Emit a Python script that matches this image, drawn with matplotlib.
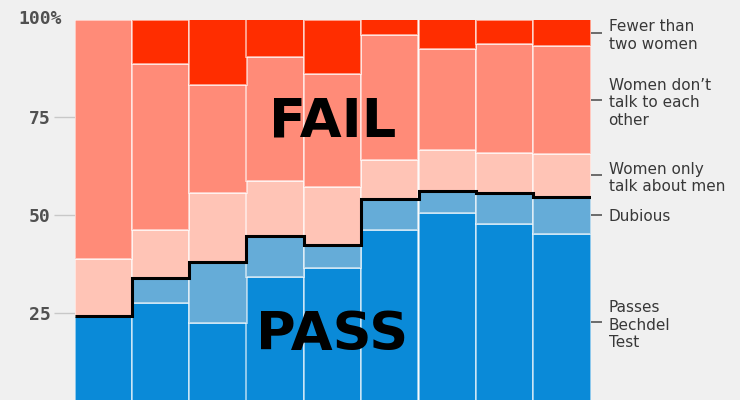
import numpy as np
import matplotlib
matplotlib.use("Agg")
import matplotlib.pyplot as plt

# Data (percent of films, stacked from bottom)
periods = ["1", "2", "3", "4", "5", "6", "7", "8", "9"]
passes = [24.2, 27.5, 22.5, 34.3, 36.6, 46.3, 50.6, 47.7, 45.2]
dubious = [0.0, 6.4, 15.6, 10.4, 5.8, 7.9, 5.6, 7.9, 9.5]
men_only = [14.5, 12.3, 17.6, 13.9, 14.9, 9.9, 10.5, 10.2, 10.9]
dont_talk = [61.3, 42.3, 27.6, 31.7, 28.8, 32.0, 25.7, 27.9, 27.6]
fewer_two = [0.0, 11.5, 16.7, 9.7, 13.9, 3.9, 7.6, 6.3, 6.8]

series_names = ["Passes\nBechdel\nTest", "Dubious", "Women only\ntalk about men",
                "Women don\u2019t\ntalk to each\nother", "Fewer than\ntwo women"]
series_colors = ["#0a8ad8", "#65acd8", "#ffc4b6", "#ff8b78", "#ff2d00"]
left_ticks = [25, 50, 75]
left_labels = ["25", "50", "75"]

BG = "#f0f0f0"
fig = plt.figure(figsize=(7.4, 4.0), dpi=100, facecolor=BG)
ax = fig.add_axes([74.5 / 740, -10.8 / 400, 516 / 740, 391.3 / 400])
ax.set_facecolor(BG)

x = np.arange(len(periods))
series = [passes, dubious, men_only, dont_talk, fewer_two]
bottom = np.zeros(len(periods))
for vals, col in zip(series, series_colors):
    vals = np.array(vals)
    ax.bar(x, vals, width=1.0, bottom=bottom, color=col,
           edgecolor=(1, 1, 1, 0.55), linewidth=1.4, zorder=2)
    bottom = bottom + vals

# step line at top of pass + dubious
pass_dub = np.array(passes) + np.array(dubious)
ax.stairs(pass_dub, np.arange(len(periods) + 1) - 0.5, baseline=None,
          color="black", linewidth=2.2, zorder=4)

ax.set_xlim(-0.5, len(periods) - 0.5)
ax.set_ylim(0, 100)
for s in ax.spines.values():
    s.set_visible(False)
ax.set_xticks([])
ax.set_yticks(left_ticks)
ax.set_yticklabels(left_labels, family="DejaVu Sans Mono", fontsize=13,
                   color="#505050", fontweight="bold")
ax.tick_params(axis="y", length=15, width=1, color="#c8c8c8", pad=2)
ax.annotate("100%", xy=(0, 100), xycoords=("axes fraction", "data"),
            xytext=(-9, 0), textcoords="offset points", ha="right", va="center",
            family="DejaVu Sans Mono", fontsize=13, color="#505050", fontweight="bold")

# right-hand labels at middle of last bar's segments
last = np.array([s[-1] for s in series])
cum = np.cumsum(last)
mids = cum - last / 2
ax2 = ax.twinx()
ax2.set_ylim(0, 100)
for s in ax2.spines.values():
    s.set_visible(False)
ax2.set_yticks(mids)
ax2.set_yticklabels(series_names, fontsize=11, color="#383838", family="DejaVu Sans")
ax2.tick_params(axis="y", length=8, width=1.2, color="#555555", pad=5)

ax.text(4.0, 70.2, "FAIL", ha="center", va="baseline", fontsize=39,
        fontweight="bold", color="black", family="DejaVu Sans", zorder=5)
ax.text(4.0, 15.5, "PASS", ha="center", va="baseline", fontsize=39,
        fontweight="bold", color="black", family="DejaVu Sans", zorder=5)

fig.savefig("out.png", dpi=100, facecolor=BG)
